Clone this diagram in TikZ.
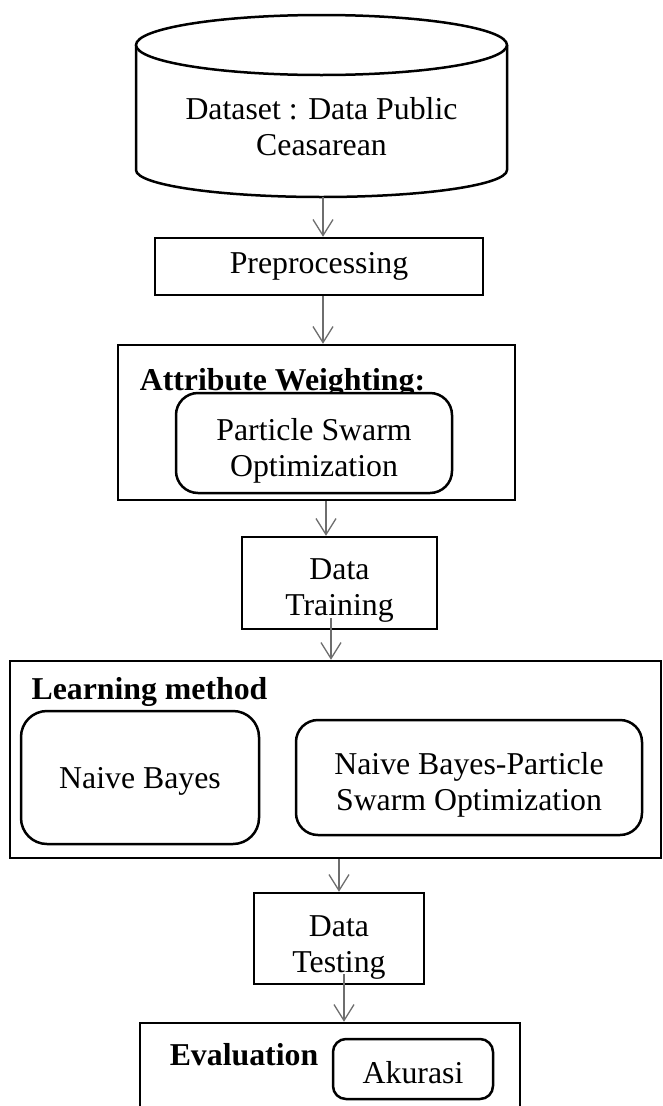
\documentclass[tikz,border=0pt]{standalone}
\usepackage{fontspec}
\setmainfont{Liberation Serif}
\usetikzlibrary{arrows.meta}
\definecolor{arrgray}{RGB}{110,110,110}
\begin{document}
\begin{tikzpicture}[x=1pt,y=-1pt,
  every node/.style={font=\fontsize{31.8}{36}\selectfont, inner sep=0pt, align=center},
  box/.style={draw=black, line width=2.5pt, fill=white},
  rbox/.style={box, rounded corners=22pt},
  lbl/.style={font=\fontsize{31.8}{36}\selectfont\bfseries},
  arr/.style={draw=arrgray, line width=1.3pt, -{Straight Barb[length=16pt,width=20pt,line width=1.3pt]}}]
\useasboundingbox (0,0) rectangle (662,1106);
\fill[white] (0,0) rectangle (662,1106);
\clip (0,0) rectangle (662,1106);
% cylinder
\draw[line width=2.5pt, fill=white] (136,45) -- (136,170) arc[start angle=180,end angle=0,x radius=185.5,y radius=27] -- (507,45);
\draw[line width=2.5pt, fill=white] (321.5,45) ellipse[x radius=185.5,y radius=30];
\node (ds) at (321.5,127) {Dataset : Data Public\\Ceasarean};
\coordinate (dsb) at (323,197);
% boxes
\node[box, minimum width=328pt, minimum height=57pt] (pre) at (319,266.5) {Preprocessing};
\node[box, minimum width=397pt, minimum height=155pt] (aw) at (316.5,422.5) {};
\node[lbl] (awl) at (282.5,383) {Attribute Weighting:};
\node[rbox, minimum width=276pt, minimum height=100pt] (pso) at (314,443) {};
\node (psot) at (314,451) {Particle Swarm\\Optimization};
\node[box, minimum width=195pt, minimum height=92pt] (dt) at (339.5,583) {};
\node (dtt) at (339.5,591) {Data\\Training};
\node[box, minimum width=651pt, minimum height=197pt] (lm) at (335.5,759.5) {};
\node[lbl] (lml) at (149.5,692) {Learning method};
\node[rbox, rounded corners=26pt, minimum width=238pt, minimum height=133pt] (nb) at (140,777.5) {};
\node (nbt) at (140,781.5) {Naive Bayes};
\node[rbox, minimum width=346pt, minimum height=115pt] (nbpso) at (469,777.5) {};
\node (nbpsot) at (469,784.5) {Naive Bayes-Particle\\Swarm Optimization};
\node[box, minimum width=170pt, minimum height=91pt] (dts) at (339,938.5) {};
\node (dtst) at (339,948) {Data\\Testing};
\node[box, minimum width=380pt, minimum height=100pt] (ev) at (330,1073) {};
\node[lbl] (evl) at (244,1055) {Evaluation};
\node[rbox, rounded corners=13pt, minimum width=160pt, minimum height=60pt] (ak) at (413,1069) {};
\node (akt) at (413,1073) {Akurasi};
% arrows
\draw[arr] (dsb) -- (dsb |- pre.north);
\draw[arr] (pre.south -| dsb) -- (dsb |- aw.north);
\draw[arr] ([xshift=9.5pt]aw.south) -- ([xshift=-13.5pt]dt.north);
\draw[arr] ([xshift=-8.5pt,yshift=12pt]dt.south) -- ([xshift=-4.5pt]lm.north);
\draw[arr] ([xshift=3.5pt]lm.south) -- (dts.north);
\draw[arr] ([xshift=5pt,yshift=11pt]dts.south) -- ([xshift=14pt]ev.north);
\end{tikzpicture}
\end{document}
